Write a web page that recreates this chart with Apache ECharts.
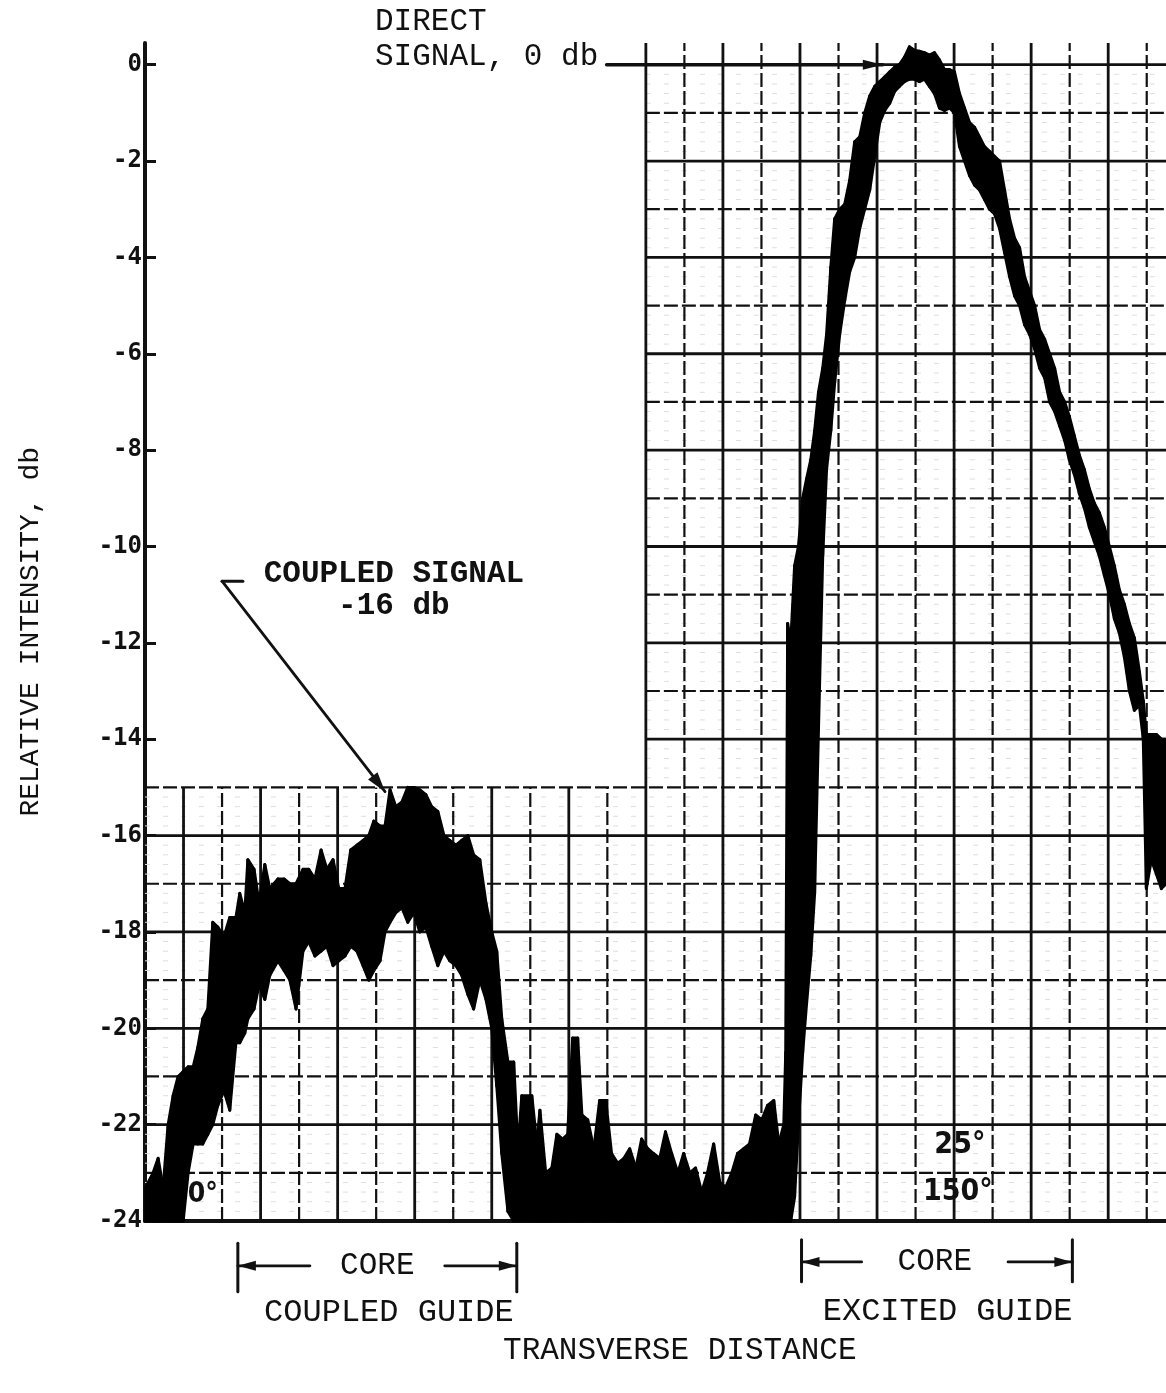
<!DOCTYPE html>
<html>
<head>
<meta charset="utf-8">
<script src="https://cdn.jsdelivr.net/npm/echarts@6/dist/echarts.min.js"></script>
<style>
  html, body { margin: 0; padding: 0; background: #fff; }
  #chart { width: 1166px; height: 1393px; }
</style>
</head>
<body>
<div id="chart"></div>
<script>
// Transverse scan across two coupled guides.
// x: chart-paper divisions, y: intensity in db relative to the direct signal.
// The recorder pen trace is a band: upper and lower edge at each x.
const traceX = [
  0.02, 0.21, 0.34, 0.47, 0.60, 0.73, 0.86, 0.99, 1.12, 1.25, 1.37, 1.50, 1.63, 1.76, 1.89,
  2.05, 2.20, 2.36, 2.46, 2.59, 2.67, 2.83, 2.96, 3.11, 3.24, 3.45, 3.61, 3.76, 3.92, 4.10,
  4.25, 4.41, 4.57, 4.72, 4.88, 5.03, 5.19, 5.34, 5.50, 5.66, 5.81, 5.94, 6.10, 6.23, 6.36,
  6.51, 6.67, 6.82, 6.98, 7.13, 7.29, 7.44, 7.60, 7.76, 7.91, 8.07, 8.22, 8.38, 8.53, 8.69,
  8.85, 9.00, 9.13, 9.26, 9.42, 9.57, 9.68, 9.78,
  10.04, 10.17, 10.25, 10.40, 10.56, 10.69, 10.84, 10.97, 11.10, 11.23, 11.34, 11.49, 11.65,
  11.80, 11.96, 12.11, 12.27, 12.43, 12.58, 12.74, 12.89, 13.05, 13.20, 13.36, 13.51, 13.67,
  13.83, 13.98, 14.14, 14.29, 14.45, 14.60, 14.76, 14.92, 15.07, 15.23, 15.38, 15.54, 15.69,
  15.85, 16.01, 16.16, 16.32, 16.45, 16.58,
  16.63, 16.68, 16.76, 16.86, 16.96, 17.07, 17.17, 17.28, 17.38, 17.48, 17.59, 17.69, 17.80,
  17.90, 18.03, 18.16, 18.29, 18.42, 18.55, 18.68, 18.81, 18.94, 19.07, 19.20, 19.33, 19.46,
  19.58, 19.71, 19.84, 19.97, 20.10, 20.23, 20.36, 20.49, 20.62, 20.75, 20.88, 21.01, 21.14,
  21.27, 21.40, 21.53, 21.66, 21.79, 21.92, 22.05, 22.18, 22.31, 22.44, 22.57, 22.70, 22.83,
  22.96, 23.09, 23.22, 23.35, 23.48, 23.61, 23.74, 23.87, 23.99, 24.12, 24.25, 24.38, 24.51,
  24.64, 24.77, 24.90, 25.03, 25.16, 25.29, 25.42, 25.55, 25.68, 25.81, 25.91, 25.99, 26.12,
  26.25, 26.38, 26.50
];
const traceHi = [
  -23.3, -23.0, -22.7, -23.3, -22.0, -21.4, -21.0, -20.9, -20.8, -20.8, -20.4, -19.8, -19.6, -17.8, -17.9,
  -18.1, -17.7, -17.7, -17.2, -17.6, -16.5, -16.7, -17.4, -16.6, -17.1, -16.9, -16.9, -17.0, -17.0, -16.7,
  -16.7, -16.9, -16.3, -16.7, -16.5, -17.1, -17.1, -16.3, -16.2, -16.1, -16.0, -15.7, -15.8, -15.8, -15.05,
  -15.4, -15.3, -15.0, -15.0, -15.05, -15.15, -15.4, -15.5, -16.0, -16.1, -16.2, -16.1, -16.0, -16.4, -16.5,
  -17.4, -18.0, -18.4, -19.8, -20.7, -20.7, -22.5, -21.4,
  -21.4, -22.4, -21.7, -23.0, -22.9, -22.2, -22.3, -22.2, -20.2, -20.2, -21.8, -21.9, -22.5,
  -21.5, -21.5, -22.6, -22.8, -22.7, -22.5, -22.9, -22.3, -22.5, -22.6, -22.7, -22.15, -22.6,
  -23.0, -22.6, -23.0, -22.9, -23.4, -23.0, -22.4, -23.2, -23.3, -23.0, -22.6, -22.5, -22.4,
  -21.8, -21.9, -21.6, -21.5, -22.4, -22.0,
  -20.5, -11.6, -12.0, -10.4, -10.0, -9.0, -8.6, -8.2, -7.6, -6.8, -6.3, -5.6, -4.2,
  -3.2, -3.0, -2.9, -2.4, -1.6, -1.5, -1.0, -0.65, -0.45, -0.35, -0.25, -0.15, -0.05,
  0.0, 0.15, 0.37, 0.3, 0.28, 0.25, 0.2, 0.25, 0.1, -0.1, -0.1, -0.15, -0.6,
  -0.9, -1.2, -1.3, -1.5, -1.7, -1.8, -1.9, -2.0, -2.6, -3.2, -3.6, -3.8, -4.4,
  -4.7, -5.0, -5.5, -5.7, -6.0, -6.3, -6.8, -7.0, -7.3, -7.7, -8.1, -8.4, -8.8,
  -9.1, -9.3, -9.6, -10.0, -10.4, -10.9, -11.2, -11.6, -11.9, -12.6, -13.2, -13.9, -13.9,
  -13.9, -14.0, -14.0
];
const traceLo = [
  -24, -24, -24, -24, -24, -24, -24, -24, -23.0, -22.4, -22.4, -22.4, -22.2, -22.0, -21.6,
  -21.3, -21.7, -20.3, -20.3, -20.1, -19.8, -19.6, -19.1, -19.4, -18.9, -18.6, -18.8, -19.0, -19.6, -18.4,
  -18.2, -18.5, -18.4, -18.3, -18.7, -18.6, -18.5, -18.3, -18.4, -18.7, -19.0, -18.8, -18.6, -18.0, -17.8,
  -17.6, -17.5, -17.8, -17.6, -18.0, -17.9, -18.3, -18.7, -18.4, -18.6, -18.7, -18.9, -19.3, -19.6, -19.0,
  -19.4, -20.0, -21.2, -22.6, -23.8, -24, -24, -24,
  -24, -24, -24, -24, -24, -24, -24, -24, -24, -24, -24, -24, -24,
  -24, -24, -24, -24, -24, -24, -24, -24, -24, -24, -24, -24, -24,
  -24, -24, -24, -24, -24, -24, -24, -24, -24, -24, -24, -24, -24,
  -24, -24, -24, -24, -24, -24,
  -24, -24, -24, -23.5, -22.0, -20.5, -19.5, -18.5, -17.2, -13.8, -10.2, -8.4, -7.6,
  -6.6, -5.6, -4.9, -4.3, -4.0, -3.4, -3.0, -2.6, -1.9, -1.2, -0.95, -0.8, -0.55,
  -0.45, -0.35, -0.3, -0.3, -0.35, -0.3, -0.45, -0.6, -0.9, -0.95, -0.9, -1.0, -1.7,
  -2.0, -2.3, -2.5, -2.6, -2.8, -3.0, -3.1, -3.4, -3.9, -4.4, -4.8, -5.0, -5.4,
  -5.6, -5.9, -6.3, -6.5, -7.0, -7.2, -7.5, -7.8, -8.2, -8.5, -8.9, -9.2, -9.6,
  -9.9, -10.2, -10.6, -11.0, -11.5, -11.8, -12.3, -13.0, -13.4, -13.3, -14.0, -17.1, -16.5,
  -16.8, -17.1, -17.0
];

// Axis tick labels and chart-paper rulings
const yTicks = [0, -2, -4, -6, -8, -10, -12, -14, -16, -18, -20, -22, -24];
const gridCols = [1, 2, 3, 4, 5, 6, 7, 8, 9, 10, 11, 12, 13, 14, 15, 16, 17, 18, 19, 20, 21, 22, 23, 24, 25, 26];
const gridRows = [0, -1, -2, -3, -4, -5, -6, -7, -8, -9, -10, -11, -12, -13, -14, -15, -16, -17, -18, -19, -20, -21, -22, -23];

const X_MAX = 26.5, Y_TOP = 0.45, Y_MIN = -24;
// the recorder paper is cut away above -15 db on the left of column 13
const CUT_X = 13, CUT_Y = -15;
const INK = '#111';
const MONO = '"Liberation Mono", "DejaVu Sans Mono", monospace';

// ruling segments: [x1, y1, x2, y2, heavy]
const rulings = [];
gridRows.forEach(v => {
  rulings.push([v > CUT_Y ? CUT_X : 0, v, X_MAX, v, v % 2 === 0 ? 1 : 0]);
});
gridCols.forEach(c => {
  rulings.push([c, Y_MIN, c, c >= CUT_X ? Y_TOP : CUT_Y, c % 2 === 1 ? 1 : 0]);
});
// faint fifth-division rulings
const fineRulings = [];
gridRows.forEach(v => {
  for (let k = 1; k < 5; k++) {
    const y = v - k * 0.2;
    if (y <= Y_MIN) continue;
    fineRulings.push([y > CUT_Y ? CUT_X : 0, y, X_MAX, y]);
  }
});

const chart = echarts.init(document.getElementById('chart'), null, { renderer: 'canvas' });

function arrowHead(from, to, len, half) {
  const dx = to[0] - from[0], dy = to[1] - from[1];
  const d = Math.hypot(dx, dy) || 1;
  const ux = dx / d, uy = dy / d;
  const bx = to[0] - ux * len, by = to[1] - uy * len;
  return {
    type: 'polygon',
    shape: { points: [[to[0], to[1]], [bx - uy * half, by + ux * half], [bx + uy * half, by - ux * half]] },
    style: { fill: INK }
  };
}

function notesRender(params, api) {
  const P = (x, y) => api.coord([x, y]);
  const kids = [];
  const seg = (a, b, w) => kids.push({ type: 'line', shape: { x1: a[0], y1: a[1], x2: b[0], y2: b[1] }, style: { stroke: INK, lineWidth: w, lineCap: 'round' } });
  const txt = (p, text, font, align, rot) => kids.push({
    type: 'text', x: p[0], y: p[1], rotation: rot || 0,
    style: { text: text, font: font, fill: INK, align: align || 'center', verticalAlign: 'middle' }
  });

  // direct signal reference
  txt(P(5.97, 0.89), 'DIRECT', '31px ' + MONO, 'left');
  txt(P(5.97, 0.17), 'SIGNAL, 0 db', '31px ' + MONO, 'left');
  const d0 = P(11.98, 0), d1 = P(19.15, 0);
  seg(d0, d1, 3.4);
  kids.push(arrowHead(d0, d1, 20, 5));

  // coupled signal pointer
  txt(P(6.46, -10.57), 'COUPLED SIGNAL', 'bold 31px ' + MONO);
  txt(P(6.46, -11.23), '-16 db', 'bold 31px ' + MONO);
  const c0 = P(2.0, -10.72), c1 = P(2.54, -10.72), c2 = P(6.23, -15.09);
  seg(c0, c1, 3);
  seg(c0, c2, 2.8);
  kids.push(arrowHead(c0, c2, 20, 6));

  // scan angle marks
  txt(P(1.5, -23.46), '0°', 'bold 28px "DejaVu Sans Condensed", "DejaVu Sans", sans-serif');
  txt(P(21.15, -22.42), '25°', 'bold 30px "DejaVu Sans Condensed", "DejaVu Sans", sans-serif');
  txt(P(21.1, -23.4), '150°', 'bold 30px "DejaVu Sans Condensed", "DejaVu Sans", sans-serif');

  // core extents
  const bracket = (xa, xb, xt1, xt2, yc, xl, yt, ybar1, ybar2, label) => {
    seg(P(xa, ybar1), P(xa, ybar2), 3);
    seg(P(xb, ybar1), P(xb, ybar2), 3);
    const l0 = P(xt1, yc), l1 = P(xa, yc);
    seg(l0, l1, 2.8);
    kids.push(arrowHead(l0, l1, 18, 5));
    const r0 = P(xt2, yc), r1 = P(xb, yc);
    seg(r0, r1, 2.8);
    kids.push(arrowHead(r0, r1, 18, 5));
    txt(P((xt1 + xt2) / 2, yc), 'CORE', '31px ' + MONO);
    txt(P(xl, yt), label, '32px ' + MONO);
  };
  bracket(2.41, 9.65, 4.28, 7.78, -24.93, 6.33, -25.89, -24.46, -25.47, 'COUPLED GUIDE');
  bracket(17.04, 24.07, 18.6, 22.4, -24.85, 20.83, -25.87, -24.39, -25.26, 'EXCITED GUIDE');

  // axis titles
  txt(P(13.88, -26.70), 'TRANSVERSE DISTANCE', '31px ' + MONO);
  txt(P(-2.98, -11.77), 'RELATIVE INTENSITY, db', '28px ' + MONO, 'center', Math.PI / 2);

  return { type: 'group', children: kids };
}

chart.setOption({
  animation: false,
  backgroundColor: '#fff',
  grid: { left: 145, right: 0, top: 43, bottom: 172, containLabel: false },
  xAxis: {
    type: 'value', min: 0, max: X_MAX,
    axisLine: { show: true, onZero: false, lineStyle: { color: INK, width: 4 } },
    axisTick: { show: false }, axisLabel: { show: false }, splitLine: { show: false }
  },
  yAxis: {
    type: 'value', min: Y_MIN, max: Y_TOP, interval: 2,
    axisLine: { show: true, onZero: false, lineStyle: { color: INK, width: 4 } },
    axisTick: { show: true, inside: true, length: 11, customValues: yTicks, lineStyle: { color: INK, width: 3 } },
    axisLabel: {
      customValues: yTicks, color: INK, margin: 3,
      fontFamily: '"DejaVu Sans Mono", monospace', fontWeight: 'bold', fontSize: 24
    },
    splitLine: { show: false }
  },
  series: [
    {
      name: 'fine rulings', type: 'custom', silent: true, z: 1,
      data: fineRulings, encode: { x: [0, 2], y: [1, 3] },
      renderItem: (params, api) => {
        const a = api.coord([api.value(0), api.value(1)]);
        const b = api.coord([api.value(2), api.value(3)]);
        return { type: 'line', shape: { x1: a[0], y1: a[1], x2: b[0], y2: b[1] },
          style: { stroke: '#dedede', lineWidth: 1, lineDash: [5, 13] } };
      }
    },
    {
      name: 'rulings', type: 'custom', silent: true, z: 2,
      data: rulings, encode: { x: [0, 2], y: [1, 3] },
      renderItem: (params, api) => {
        const a = api.coord([api.value(0), api.value(1)]);
        const b = api.coord([api.value(2), api.value(3)]);
        const heavy = api.value(4) === 1;
        return { type: 'line', shape: { x1: a[0], y1: a[1], x2: b[0], y2: b[1] },
          style: { stroke: INK, lineWidth: heavy ? 2.8 : 2.2, lineDash: heavy ? null : [14, 4] } };
      }
    },
    {
      name: 'trace', type: 'custom', silent: true, z: 3,
      data: traceX.map((x, i) => [x, traceHi[i], traceLo[i]]),
      encode: { x: 0, y: [1, 2] },
      renderItem: (params, api) => {
        const i = params.dataIndex;
        if (i >= traceX.length - 1) return null;
        const pts = [
          api.coord([traceX[i], traceHi[i]]),
          api.coord([traceX[i + 1], traceHi[i + 1]]),
          api.coord([traceX[i + 1], traceLo[i + 1]]),
          api.coord([traceX[i], traceLo[i]])
        ];
        return { type: 'polygon', shape: { points: pts },
          style: { fill: '#000', stroke: '#000', lineWidth: 3, lineJoin: 'round' } };
      }
    },
    {
      name: 'notes', type: 'custom', silent: true, z: 4, clip: false,
      data: [[0, 0]], encode: { x: 0, y: 1 },
      renderItem: notesRender
    }
  ]
});
</script>
</body>
</html>
